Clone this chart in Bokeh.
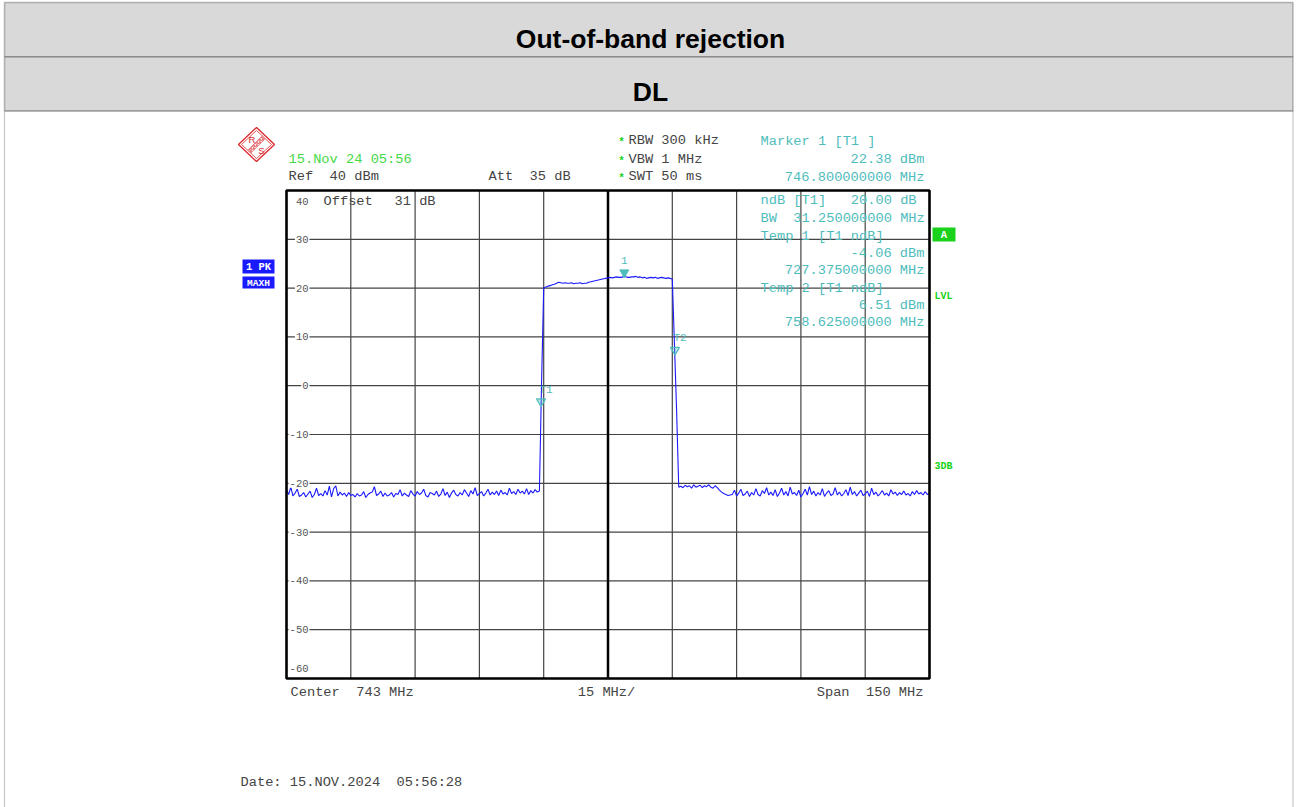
import numpy as np
from bokeh.plotting import figure
from bokeh.models import Range1d, Label, BoxAnnotation, ColumnDataSource
from bokeh.embed import file_html
from bokeh.resources import INLINE
from bokeh.core.properties import value

# ---------------- data ----------------
TITLE = "Out-of-band rejection"
SUBTITLE = "DL"
CENTER_MHZ = 743.0
SPAN_MHZ = 150.0
DIVISIONS = 10
REF_DBM = 40
BOTTOM_DBM = -60

# trace levels (dBm), one sweep point every 0.5 MHz from 668 to 818 MHz
LEVEL_NOISE_LOW = [
    -21.4, -22.3, -20.8, -22.6, -22.0, -21.2, -22.7, -22.4, -21.9, -22.8,
    -22.2, -21.6, -22.9, -22.3, -21.0, -22.5, -22.1, -22.6, -21.5, -22.4,
    -20.6, -22.8, -21.1, -20.5, -22.6, -21.8, -22.4, -22.0, -22.7, -21.9,
    -22.5, -22.3, -22.8, -22.1, -22.6, -22.4, -21.7, -22.9, -22.3, -22.0,
    -21.8, -20.7, -22.5, -22.2, -21.6, -22.7, -22.0, -22.6, -22.4, -21.9,
    -22.8, -22.1, -22.3, -21.3, -22.6, -22.0, -22.4, -22.7, -21.5, -22.2,
    -22.6, -21.7, -22.3, -22.0, -21.2, -22.5, -22.8, -21.9, -22.1, -22.4,
    -21.6, -22.7, -22.2, -21.1, -22.5, -21.8, -22.9, -22.0, -21.4, -22.3,
    -22.6, -21.9, -22.4, -21.3, -22.0, -22.7, -21.5, -22.2, -20.9, -22.5,
    -22.1, -21.7, -22.6, -22.0, -21.2, -22.4, -21.8, -22.3, -21.6, -22.5,
    -21.4, -22.2, -21.9, -22.4, -21.0, -22.1, -21.7, -22.3, -21.2, -22.0,
    -21.6, -22.2, -21.1, -22.3, -21.5, -22.0, -21.3, -21.8,
]
LEVEL_RISE = [-21.6, 0.5, 20.0]
LEVEL_PASS = [
    20.2, 20.4, 20.5, 20.7, 20.8, 21.0, 21.2, 21.1, 21.0, 21.1,
    21.0, 21.0, 21.1, 20.9, 21.0, 21.0, 21.1, 20.9, 21.0, 21.0,
    21.2, 21.3, 21.4, 21.5, 21.6, 21.7, 21.8, 21.9, 22.0, 22.1,
    22.2, 22.1, 22.2, 22.3, 22.2, 22.2, 22.3, 22.38, 22.2, 22.2,
    22.3, 22.3, 22.4, 22.2, 22.3, 22.1, 22.2, 22.0, 22.1, 22.2,
    22.1, 22.2, 22.0, 22.1, 22.2, 22.1, 22.0, 22.1, 22.0,
]
LEVEL_FALL = [21.8, 8.5, -5.0, -20.8]
LEVEL_SHOULDER = [
    -20.6, -20.9, -20.4, -20.7, -20.5, -21.0, -20.3, -20.8, -20.6, -20.4,
    -20.9, -20.5, -20.7, -20.3, -20.8, -21.0, -20.5, -20.9,
]
LEVEL_SLOPE = [-21.4, -21.8, -22.1, -22.3, -22.5, -22.4]
LEVEL_NOISE_HIGH = [
    -22.3, -21.4, -22.6, -22.0, -21.2, -22.5, -22.2, -21.6, -22.7, -21.9,
    -22.4, -21.1, -22.3, -22.6, -21.5, -22.1, -20.9, -22.4, -21.8, -22.5,
    -21.3, -22.7, -22.0, -21.0, -22.4, -21.7, -22.6, -20.8, -22.2, -21.9,
    -22.5, -21.4, -22.8, -22.1, -21.2, -22.4, -20.7, -22.3, -21.6, -22.6,
    -21.9, -22.4, -21.1, -22.7, -22.0, -21.5, -22.5, -22.2, -20.9, -22.4,
    -21.8, -22.6, -22.1, -21.3, -22.5, -20.8, -22.3, -21.7, -22.6, -22.0,
    -21.4, -22.5, -22.2, -21.6, -22.7, -21.0, -22.3, -21.8, -22.6, -22.1,
    -21.5, -22.4, -22.0, -22.6, -21.3, -22.2, -21.8, -22.5, -21.9, -22.3,
    -21.6, -22.4, -22.1, -22.6, -21.7, -22.3, -21.5, -22.2, -21.9, -22.4,
    -21.7, -22.3, -22.0,
]

MARKER_NAMES = ["1", "T1", "T2"]
MARKER_FREQ = [746.8, 727.375, 758.625]
MARKER_LEVEL = [22.38, -4.06, 6.51]

Y_TICKS = [40, 30, 20, 10, 0, -10, -20, -30, -40, -50, -60]

TXT_TIME = "15.Nov 24 05:56"
TXT_REF = "Ref  40 dBm"
TXT_ATT = "Att  35 dB"
TXT_SETTINGS = ["RBW 300 kHz", "VBW 1 MHz", "SWT 50 ms"]
TXT_OFFSET = ["Offset", "31 dB"]
TXT_MARKER_HEAD = "Marker 1 [T1 ]"
TXT_MARKER_LEVEL = "22.38 dBm"
TXT_MARKER_FREQ = "746.800000000 MHz"
TXT_NDB = "ndB [T1]   20.00 dB"
TXT_BW = "BW  31.250000000 MHz"
TXT_TEMP1 = ["Temp 1 [T1 ndB]", "-4.06 dBm", "727.375000000 MHz"]
TXT_TEMP2 = ["Temp 2 [T1 ndB]", "6.51 dBm", "758.625000000 MHz"]
TXT_CENTER = "Center  743 MHz"
TXT_DIV = "15 MHz/"
TXT_SPAN = "Span  150 MHz"
TXT_DATE = "Date: 15.NOV.2024  05:56:28"
TXT_TRACE = ["1 PK", "MAXH"]
TXT_SIDE = ["A", "LVL", "3DB"]

# ---------------- style / layout ----------------
MONO = "Liberation Mono"
SANS = "Liberation Sans"
GRAY = "#444444"
TEAL = "#4fbcbc"
GREEN = "#46d946"
BRIGHT_GREEN = "#19d219"
BLUE = "#1a1aff"
RS_RED = "#d8282d"
HEADER_BG = "#d9d9d9"
GRID_COLOR = "#444444"
FS = 13.7

W, H = 1296, 807
# diagram box on the page (pixels)
DL, DR, DT, DB = 286, 929, 190, 678

f_lo = CENTER_MHZ - SPAN_MHZ / 2
f_hi = CENTER_MHZ + SPAN_MHZ / 2
mhz_px = SPAN_MHZ / (DR - DL)
db_px = (REF_DBM - BOTTOM_DBM) / (DB - DT)

p = figure(width=W, height=H, x_range=Range1d(0, W), y_range=Range1d(H, 0),
           x_axis_type=None, y_axis_type=None, output_backend="svg",
           toolbar_location=None, min_border=0)
p.outline_line_color = None
p.background_fill_color = "white"
p.border_fill_color = "white"
p.extra_x_ranges = {"freq": Range1d(f_lo - DL * mhz_px, f_hi + (W - DR) * mhz_px)}
p.extra_y_ranges = {"lev": Range1d(BOTTOM_DBM - (H - DB) * db_px, REF_DBM + DT * db_px)}
R = dict(x_range_name="freq", y_range_name="lev")

# ---- page header bands ----
for top, bottom in [(2, 56.5), (56.5, 110.5)]:
    p.add_layout(BoxAnnotation(left=4, right=1292.5, top=top, bottom=bottom,
                               fill_color=HEADER_BG, fill_alpha=1,
                               line_color="#222222", line_width=1.5, level="underlay"))
p.add_layout(BoxAnnotation(left=4, right=1292.5, top=110.5, bottom=H + 5, fill_alpha=0,
                           line_color="#444444", line_width=1.2, level="underlay"))


def put(px, py, text, color=GRAY, size=FS, align="left", bold=False, font=MONO,
        baseline="middle"):
    p.add_layout(Label(x=px, y=py, text=text.replace(" ", "\u00a0"), text_color=color,
                       text_font=font, text_font_size=f"{size}px",
                       text_font_style="bold" if bold else "normal",
                       text_align=align, text_baseline=baseline))


put(650, 38, TITLE, color="black", size=26.5, bold=True, font=SANS, align="center")
put(650, 91.5, SUBTITLE, color="black", size=26.5, bold=True, font=SANS, align="center")

# ---- diagram grid and frame ----
step = SPAN_MHZ / DIVISIONS
x_grid = [f_lo + k * step for k in range(1, DIVISIONS) if k != DIVISIONS // 2]
y_grid = [t for t in Y_TICKS if BOTTOM_DBM < t < REF_DBM]
p.segment(x0=x_grid, y0=[BOTTOM_DBM] * len(x_grid), x1=x_grid, y1=[REF_DBM] * len(x_grid),
          line_color=GRID_COLOR, line_width=1.2, **R)
p.segment(x0=[f_lo] * len(y_grid), y0=y_grid, x1=[f_hi] * len(y_grid), y1=y_grid,
          line_color=GRID_COLOR, line_width=1.2, **R)
p.segment(x0=[CENTER_MHZ], y0=[BOTTOM_DBM], x1=[CENTER_MHZ], y1=[REF_DBM],
          line_color="black", line_width=2.5, **R)

for t in Y_TICKS:
    yoff = -11 if t == REF_DBM else (10 if t == BOTTOM_DBM else 0)
    p.add_layout(Label(x=309, y=t, y_range_name="lev", y_offset=yoff, text=str(t),
                       text_align="right", text_baseline="middle", text_font=MONO,
                       text_font_size="10.5px", text_color="#555555",
                       background_fill_color="white", padding=1))

# ---- trace ----
levels = (LEVEL_NOISE_LOW + LEVEL_RISE + LEVEL_PASS + LEVEL_FALL +
          LEVEL_SHOULDER + LEVEL_SLOPE + LEVEL_NOISE_HIGH)
freq = np.linspace(f_lo, f_hi, len(levels))
src = ColumnDataSource(dict(f=freq, lev=levels))
p.line("f", "lev", source=src, line_color=BLUE, line_width=1.1, **R)

p.quad(left=[f_lo], right=[f_hi], bottom=[BOTTOM_DBM], top=[REF_DBM], fill_alpha=0,
       line_color="black", line_width=2.6, **R)

# ---- markers (triangle tip on the trace) ----
lift = 4 * db_px
p.scatter(x=MARKER_FREQ[:1], y=[MARKER_LEVEL[0] + lift], marker="inverted_triangle",
          size=9, fill_color=TEAL, line_color=TEAL, **R)
p.scatter(x=MARKER_FREQ[1:], y=[v + lift for v in MARKER_LEVEL[1:]],
          marker="inverted_triangle", size=9, fill_color=TEAL, fill_alpha=0.35,
          line_color=TEAL, line_width=1.2, **R)
mk = ColumnDataSource(dict(f=MARKER_FREQ, top=[v + lift for v in MARKER_LEVEL],
                           name=MARKER_NAMES, dx=[0, 5, 5]))
p.text("f", "top", text="name", source=mk, x_offset="dx", y_offset=-12,
       text_align="center", text_baseline="middle", text_color=TEAL,
       text_font_size="11px", text_font=value(MONO), **R)

# ---- R&S logo ----
p.patch([256, 274, 256, 238], [127, 144, 161, 144], fill_alpha=0, line_color=RS_RED,
        line_width=1.3)
p.patch([256, 271, 256, 241], [130, 144, 158, 144], fill_alpha=0, line_color=RS_RED,
        line_width=0.8)
p.patch([264.1, 261.3, 247.9, 250.7], [138.7, 135.9, 149.3, 152.1], fill_alpha=0,
        line_color=RS_RED, line_width=0.6, hatch_pattern="/", hatch_color=RS_RED,
        hatch_scale=3, hatch_weight=0.8)
put(251.5, 139, "R", color=RS_RED, size=9.5, font=SANS, align="center")
put(261, 149.5, "S", color=RS_RED, size=9.5, font=SANS, align="center")

# ---- header information ----
put(288, 159, TXT_TIME, color=GREEN)
put(288, 176, TXT_REF)
put(488, 176, TXT_ATT)
for s, yy in zip(TXT_SETTINGS, [140, 159, 176]):
    put(621, yy + 1, "*", color=BRIGHT_GREEN, size=11, bold=True, align="center")
    put(628, yy, s)

put(760, 141, TXT_MARKER_HEAD, color=TEAL)
put(924, 159, TXT_MARKER_LEVEL, color=TEAL, align="right")
put(924, 177, TXT_MARKER_FREQ, color=TEAL, align="right")
put(760, 200, TXT_NDB, color=TEAL)
put(760, 218, TXT_BW, color=TEAL)
put(760, 236, TXT_TEMP1[0], color=TEAL)
put(924, 253, TXT_TEMP1[1], color=TEAL, align="right")
put(924, 270, TXT_TEMP1[2], color=TEAL, align="right")
put(760, 288, TXT_TEMP2[0], color=TEAL)
put(924, 305, TXT_TEMP2[1], color=TEAL, align="right")
put(924, 322, TXT_TEMP2[2], color=TEAL, align="right")

put(323, 201, TXT_OFFSET[0])
put(394, 201, TXT_OFFSET[1])

# ---- trace info boxes ----
for top, bottom in [(259, 273), (276, 288)]:
    p.add_layout(BoxAnnotation(left=242, right=274, top=top, bottom=bottom,
                               fill_color=BLUE, fill_alpha=1, line_alpha=0))
put(258, 266.5, TXT_TRACE[0], color="white", size=10.5, bold=True, align="center")
put(258, 282.5, TXT_TRACE[1], color="white", size=9.5, bold=True, align="center")

# ---- side indicators ----
p.add_layout(BoxAnnotation(left=932, right=955, top=227, bottom=241,
                           fill_color=BRIGHT_GREEN, fill_alpha=1, line_alpha=0))
put(943.5, 234.5, TXT_SIDE[0], color="white", size=10.5, bold=True, align="center")
put(934, 296, TXT_SIDE[1], color=BRIGHT_GREEN, size=10, bold=True)
put(934, 466, TXT_SIDE[2], color=BRIGHT_GREEN, size=10, bold=True)

# ---- footer ----
put(290, 692, TXT_CENTER)
put(606, 692, TXT_DIV, align="center")
put(923, 692, TXT_SPAN, align="right")
put(240, 782, TXT_DATE)

open("out.html", "w").write(file_html(p, INLINE))
